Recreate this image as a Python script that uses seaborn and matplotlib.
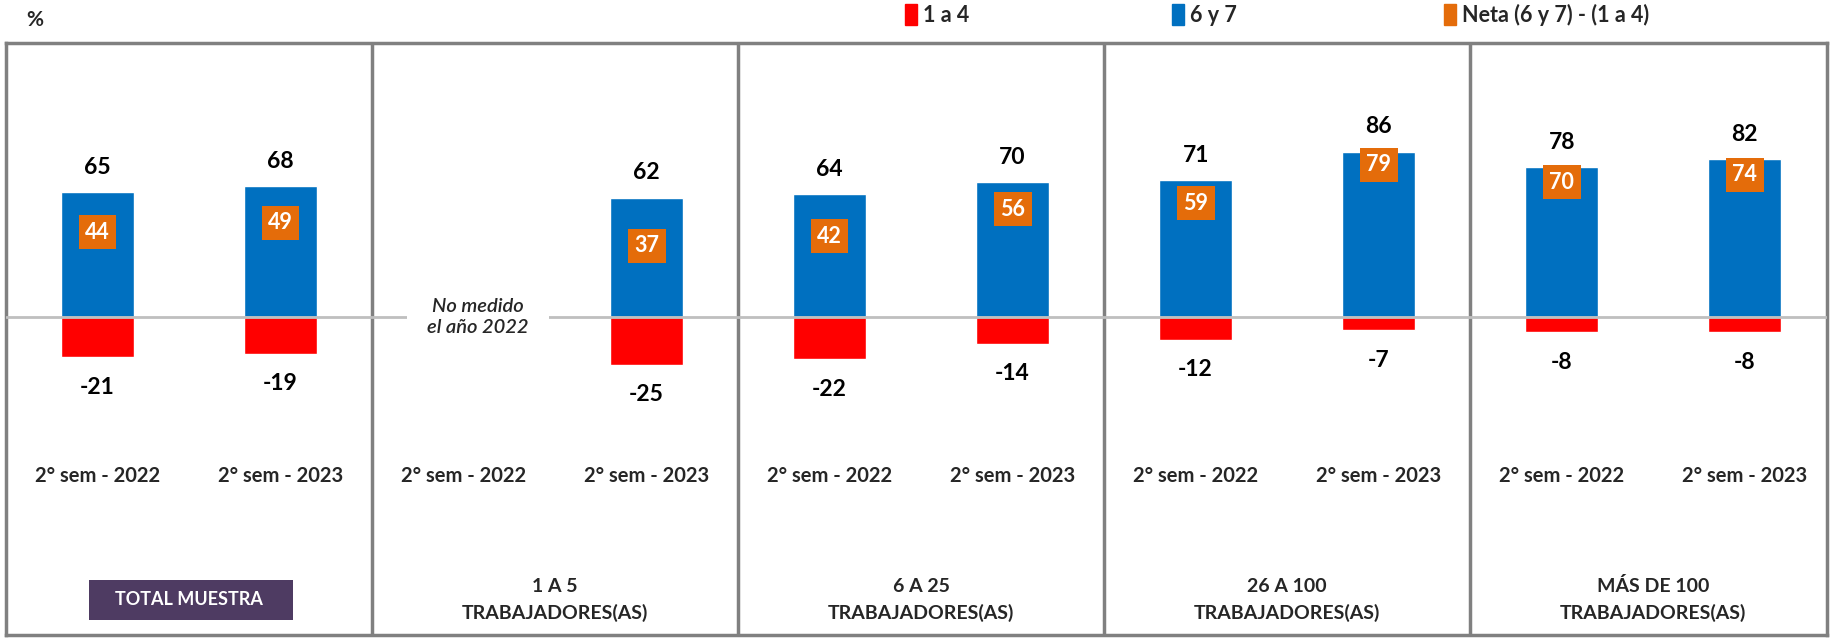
import numpy as np
import pandas as pd
import matplotlib.pyplot as plt
import seaborn as sns
from matplotlib.patches import Patch, Rectangle

# ── data ────────────────────────────────────────────────────────────────────
groups = [
    "TOTAL MUESTRA",
    "1 A 5\nTRABAJADORES(AS)",
    "6 A 25\nTRABAJADORES(AS)",
    "26 A 100\nTRABAJADORES(AS)",
    "MÁS DE 100\nTRABAJADORES(AS)",
]
periods = ["2° sem - 2022", "2° sem - 2023"]
nota_six_seven = [65, 68, np.nan, 62, 64, 70, 71, 86, 78, 82]
nota_one_four = [-21, -19, np.nan, -25, -22, -14, -12, -7, -8, -8]
neta = [44, 49, np.nan, 37, 42, 56, 59, 79, 70, 74]
legend_labels = ["1 a 4", "6 y 7", "Neta (6 y 7) - (1 a 4)"]

BLUE, RED, ORANGE = "#0070C0", "#FF0000", "#E46C0A"
PURPLE = "#4E3B62"
BORDER = "#808080"

slots = [f"{g}|{p}" for g in groups for p in periods]
df = pd.DataFrame({
    "slot": slots,
    "period": periods * len(groups),
    "pos": nota_six_seven,
    "neg": nota_one_four,
    "net": neta,
})

# ── figure ──────────────────────────────────────────────────────────────────
sns.set_style("white")
plt.rcParams["font.family"] = ["Lato", "DejaVu Sans"]

fig = plt.figure(figsize=(18.33, 6.38), dpi=100)
ax = fig.add_axes([6 / 1833, 3 / 638, 1821 / 1833, 592 / 638])

sns.barplot(data=df, x="slot", y="pos", order=slots, color=BLUE,
            saturation=1, width=0.4, errorbar=None, ax=ax, zorder=2)
sns.barplot(data=df, x="slot", y="neg", order=slots, color=RED,
            saturation=1, width=0.4, errorbar=None, ax=ax, zorder=2)

ax.axhline(0, color="#BFBFBF", lw=2, zorder=3)

for i, row in df.iterrows():
    if np.isnan(row["pos"]):
        continue
    ax.text(i, row["pos"] + 9.5, f"{row['pos']:.0f}", ha="center", va="baseline",
            fontsize=16.5, fontweight="bold", color="black")
    ax.text(i, row["neg"] - 10, f"{row['neg']:.0f}", ha="center", va="top",
            fontsize=16.5, fontweight="bold", color="black")
    ax.text(i, row["net"], f"{row['net']:.0f}", ha="center", va="center",
            fontsize=15.5, fontweight="bold", color="white", zorder=5,
            bbox=dict(boxstyle="square,pad=0.3", fc=ORANGE, ec="none"))

ax.text(2.08, 0, "No medido\nel año 2022", ha="center", va="center",
        fontsize=14.5, style="italic", fontweight="semibold", linespacing=1.3,
        zorder=4, bbox=dict(boxstyle="square,pad=1.0", fc="white", ec="none"))

for i, p in enumerate(df["period"]):
    ax.text(i, -82.6, p, ha="center", va="center", fontsize=14.5,
            fontweight="bold")

for g, label in enumerate(groups):
    xc = 2 * g + 0.5
    if g == 0:
        ax.add_patch(Rectangle((-0.046, -157.5), 1.115, 20.8, fc=PURPLE,
                               ec="none", zorder=3))
        ax.text(xc, -147.1, label, ha="center", va="center", fontsize=13,
                fontweight="bold", color="white", zorder=4)
    else:
        ax.text(xc, -147.0, label, ha="center", va="center", fontsize=14,
                fontweight="bold", linespacing=1.6)

# panel borders
for k in [1.5, 3.5, 5.5, 7.5]:
    ax.axvline(k, color=BORDER, lw=2.5, zorder=1)
for s in ax.spines.values():
    s.set_visible(True)
    s.set_color(BORDER)
    s.set_linewidth(2.5)

ax.set_xlim(-0.5, 9.45)
ax.set_ylim(-165.3, 142.4)
ax.set_xticks([])
ax.set_yticks([])
ax.set_xlabel("")
ax.set_ylabel("")

# legend entries placed individually (Excel spaces them on a fixed grid)
for lab, col, x0 in zip(legend_labels, [RED, BLUE, ORANGE], [905, 1172, 1444]):
    fig.legend([Patch(color=col)], [lab], loc="center left",
               bbox_to_anchor=(x0 / 1833, 1 - 15 / 638), frameon=False,
               handlelength=0.55, handleheight=1.1, handletextpad=0.3,
               borderpad=0, borderaxespad=0,
               prop=dict(size=15.5, weight="bold"))

fig.text(35 / 1833, 1 - 20 / 638, "%", ha="center", va="center",
         fontsize=15, fontweight="bold")

fig.savefig("out.png", dpi=100)
